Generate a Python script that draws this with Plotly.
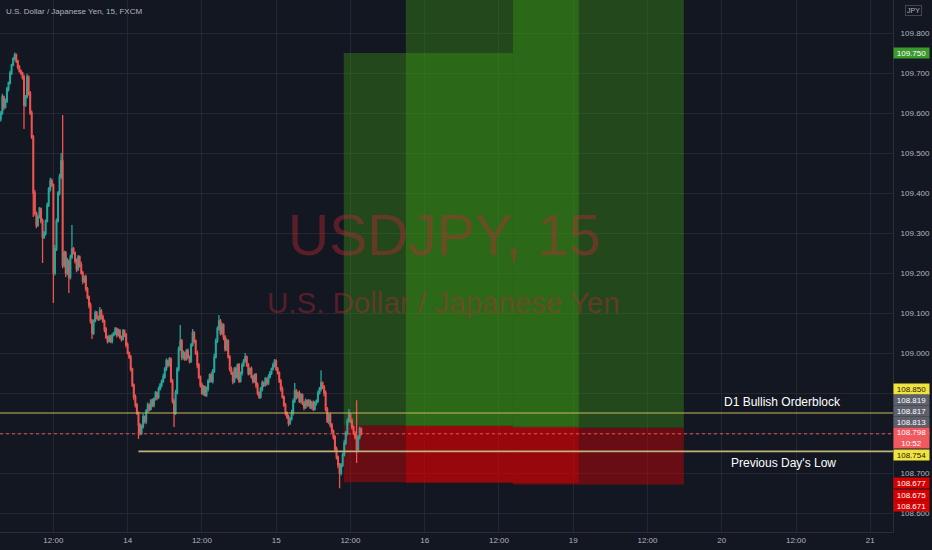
import plotly.graph_objects as go

# USDJPY 15-min candles, 13th 03:30 -> 15th 13:45 (one entry per bar)
first_open = 109.585
closes = [
    109.600, 109.640, 109.615, 109.630, 109.660, 109.675, 109.700, 109.720, 109.735, 109.745,
    109.730, 109.715, 109.705, 109.700, 109.690, 109.620, 109.640, 109.690, 109.650, 109.600,
    109.540, 109.400, 109.350, 109.320, 109.340, 109.360, 109.330, 109.290, 109.300, 109.330,
    109.370, 109.410, 109.430, 109.420, 109.200, 109.260, 109.330, 109.400, 109.440, 109.480,
    109.220, 109.250, 109.200, 109.230, 109.190, 109.240, 109.260, 109.250, 109.230, 109.210,
    109.240, 109.220, 109.200, 109.180, 109.190, 109.160, 109.140, 109.120, 109.080, 109.050,
    109.080, 109.100, 109.090, 109.085, 109.105, 109.090, 109.080, 109.060, 109.040, 109.030,
    109.040, 109.030, 109.045, 109.050, 109.060, 109.045, 109.055, 109.040, 109.035, 109.055,
    109.045, 109.020, 109.000, 108.990, 108.960, 108.920, 108.890, 108.870, 108.850, 108.820,
    108.800, 108.815, 108.840, 108.830, 108.855, 108.870, 108.860, 108.880, 108.870, 108.885,
    108.900, 108.890, 108.910, 108.920, 108.930, 108.940, 108.960, 108.980, 108.970, 108.985,
    108.930, 108.880, 108.850, 108.900, 108.960, 109.010, 109.030, 108.990, 109.000, 108.985,
    109.005, 108.990, 108.980, 109.020, 109.050, 109.030, 109.000, 108.970, 108.940, 108.920,
    108.900, 108.915, 108.895, 108.910, 108.930, 108.945, 108.930, 108.955, 108.990, 109.030,
    109.060, 109.080, 109.050, 109.070, 109.040, 109.010, 109.030, 108.990, 108.960, 108.950,
    108.930, 108.960, 108.940, 108.970, 108.930, 108.950, 108.970, 108.980, 108.990, 108.970,
    108.950, 108.960, 108.940, 108.930, 108.945, 108.920, 108.900, 108.890, 108.910, 108.925,
    108.920, 108.935, 108.925, 108.940, 108.950, 108.960, 108.970, 108.980, 108.960, 108.950,
    108.930, 108.910, 108.890, 108.870, 108.850, 108.840, 108.825, 108.835, 108.850, 108.880,
    108.905, 108.890, 108.900, 108.880, 108.895, 108.875, 108.865, 108.880, 108.870, 108.880,
    108.865, 108.875, 108.860, 108.875, 108.880, 108.900, 108.910, 108.925, 108.915, 108.900,
    108.860, 108.830, 108.845, 108.820, 108.805, 108.790, 108.760, 108.740, 108.720, 108.700,
    108.720, 108.745, 108.775, 108.800, 108.830, 108.845, 108.830, 108.815, 108.800, 108.790,
    108.760, 108.790, 108.810, 108.798,
]
# wick lengths above / below the body, in thousandths of a yen
wick_up = [
    5, 8, 4, 6, 5, 4, 6, 3, 5, 6, 4, 3, 5, 4, 3, 6, 5, 8, 4, 5,
    6, 5, 8, 4, 6, 5, 4, 6, 5, 4, 6, 5, 8, 6, 4, 10, 6, 5, 8, 20,
    115, 6, 5, 8, 4, 6, 60, 5, 4, 6, 5, 4, 8, 5, 4, 6, 5, 4, 6, 5,
    4, 6, 5, 4, 10, 5, 6, 4, 5, 4, 6, 5, 4, 3, 5, 4, 6, 5, 4, 5,
    4, 5, 6, 4, 5, 3, 4, 6, 5, 4, 5, 6, 8, 4, 5, 6, 4, 5, 6, 4,
    5, 4, 6, 5, 4, 8, 5, 6, 4, 5, 4, 5, 6, 8, 5, 6, 40, 5, 6, 4,
    5, 6, 4, 5, 10, 5, 4, 6, 5, 4, 6, 5, 4, 6, 5, 4, 6, 5, 8, 6,
    6, 15, 5, 6, 4, 5, 6, 4, 5, 6, 4, 5, 6, 4, 5, 4, 6, 5, 10, 4,
    5, 4, 6, 5, 4, 5, 6, 4, 5, 6, 4, 5, 4, 6, 5, 4, 6, 5, 4, 5,
    4, 5, 6, 4, 5, 4, 6, 5, 8, 6, 20, 5, 4, 6, 5, 4, 5, 6, 4, 5,
    4, 5, 6, 5, 4, 6, 5, 32, 4, 5, 6, 5, 4, 6, 5, 4, 5, 6, 4, 5,
    5, 6, 8, 5, 6, 15, 5, 6, 4, 5, 92, 5, 6, 4,
]
wick_down = [
    6, 5, 8, 4, 5, 6, 4, 5, 3, 4, 5, 6, 4, 5, 6, 60, 5, 4, 6, 5,
    5, 60, 6, 8, 5, 4, 6, 65, 5, 6, 4, 5, 6, 5, 75, 6, 5, 4, 6, 5,
    8, 6, 10, 5, 40, 6, 5, 4, 6, 8, 5, 6, 4, 8, 5, 6, 5, 8, 6, 15,
    5, 4, 6, 5, 4, 6, 5, 8, 5, 6, 4, 5, 6, 4, 5, 6, 4, 5, 6, 4,
    5, 6, 4, 5, 6, 5, 8, 6, 5, 35, 6, 5, 4, 6, 8, 5, 6, 4, 5, 6,
    4, 8, 5, 4, 6, 5, 4, 5, 6, 4, 5, 6, 35, 5, 4, 6, 5, 8, 6, 5,
    4, 5, 6, 5, 4, 6, 5, 8, 5, 6, 5, 6, 4, 5, 6, 5, 4, 6, 5, 4,
    5, 4, 6, 5, 8, 6, 5, 4, 6, 5, 8, 5, 4, 6, 5, 4, 6, 5, 4, 5,
    6, 5, 4, 6, 5, 8, 6, 5, 4, 6, 5, 4, 6, 5, 4, 5, 4, 6, 5, 4,
    5, 6, 4, 5, 6, 5, 8, 5, 4, 6, 5, 6, 4, 5, 6, 5, 8, 5, 6, 4,
    5, 6, 5, 4, 6, 5, 4, 6, 5, 8, 6, 5, 8, 6, 5, 6, 5, 6, 8, 38,
    6, 5, 4, 5, 6, 4, 5, 6, 5, 6, 35, 5, 6, 4,
]

opens = [first_open] + closes[:-1]
highs = [max(o, c) + u / 1000 for o, c, u in zip(opens, closes, wick_up)]
lows = [min(o, c) - d / 1000 for o, c, d in zip(opens, closes, wick_down)]
bars = list(range(len(closes)))

# time axis (bar index, weekend removed)
tick_bars = [34, 82, 130, 178, 226, 274, 322, 370, 418, 466, 514, 562]
tick_text = ["12:00", "14", "12:00", "15", "12:00", "16", "12:00", "19", "12:00", "20", "12:00", "21"]
price_ticks = [108.6, 108.7, 108.8, 108.9, 109.0, 109.1, 109.2, 109.3, 109.4, 109.5, 109.6, 109.7, 109.8]

# long position tools
box_start = [221.7, 261.8, 331.0]
box_end = [331.0, 373.6, 441.5]
box_entry = [108.819, 108.817, 108.813]
box_stop = [108.677, 108.675, 108.671]
box_target = [109.750, 110.100, 110.100]

orderblock = 108.850
prev_day_low = 108.754
prev_day_low_from = 89
last_price = 108.798
countdown = "10:52"

# price-scale labels: text, background, text colour, pixel row
scale_labels = [
    ("109.750", "#3b9a2c", "#ffffff", 53),
    ("108.850", "#f2e33c", "#131722", 388.5),
    ("108.819", "#5d606b", "#ffffff", 400),
    ("108.817", "#5d606b", "#ffffff", 411),
    ("108.813", "#5d606b", "#ffffff", 422),
    ("108.754", "#f2e33c", "#131722", 455),
    ("108.677", "#d50000", "#ffffff", 483),
    ("108.675", "#d50000", "#ffffff", 494.5),
    ("108.671", "#d50000", "#ffffff", 506),
]

BG = "#131722"
GRID = "#232733"
TXT = "#b2b5be"
FONT = "Liberation Sans, Arial, sans-serif"
PLOT_H = 532
X_RANGE = [-0.5, 576.7]

fig = go.Figure()
fig.add_trace(go.Candlestick(
    x=bars, open=opens, high=highs, low=lows, close=closes,
    increasing=dict(line=dict(color="#26a69a", width=1.3), fillcolor="#26a69a"),
    decreasing=dict(line=dict(color="#ef5350", width=1.3), fillcolor="#ef5350"),
    whiskerwidth=0, showlegend=False, hoverinfo="skip",
))

shapes = []
for x0, x1, e, s, t in zip(box_start, box_end, box_entry, box_stop, box_target):
    shapes.append(dict(type="rect", x0=x0, x1=x1, y0=e, y1=t, line_width=0,
                       fillcolor="rgba(60,160,20,0.36)", layer="between"))
    shapes.append(dict(type="rect", x0=x0, x1=x1, y0=s, y1=e, line_width=0,
                       fillcolor="rgba(220,0,0,0.42)", layer="between"))
shapes.append(dict(type="line", x0=X_RANGE[0], x1=X_RANGE[1], y0=orderblock, y1=orderblock,
                   line=dict(color="#cdb85a", width=1)))
shapes.append(dict(type="line", x0=prev_day_low_from, x1=X_RANGE[1], y0=prev_day_low, y1=prev_day_low,
                   line=dict(color="#bfb27a", width=1.6)))
shapes.append(dict(type="line", x0=X_RANGE[0], x1=X_RANGE[1], y0=last_price, y1=last_price,
                   line=dict(color="#ef5350", width=1, dash="dot")))

annotations = [
    dict(text="USDJPY, 15", xref="paper", yref="paper", x=0.498, y=1 - 235 / PLOT_H,
         showarrow=False, font=dict(family=FONT, size=57, color="rgba(190,40,52,0.42)")),
    dict(text="U.S. Dollar / Japanese Yen", xref="paper", yref="paper", x=0.497, y=1 - 302 / PLOT_H,
         showarrow=False, font=dict(family=FONT, size=29.5, color="rgba(190,40,52,0.42)")),
    dict(text="U.S. Dollar / Japanese Yen, 15, FXCM", xref="paper", yref="paper", x=0.005, y=1 - 12 / PLOT_H,
         xanchor="left", yanchor="middle", showarrow=False, font=dict(family=FONT, size=8, color=TXT)),
    dict(text="D1 Bullish Orderblock", x=505, y=orderblock, yanchor="bottom", yshift=2, showarrow=False,
         font=dict(family=FONT, size=12, color="#ffffff")),
    dict(text="Previous Day's Low", x=506, y=prev_day_low, yanchor="top", yshift=-3, showarrow=False,
         font=dict(family=FONT, size=12, color="#ffffff")),
    dict(text="JPY", xref="paper", yref="paper", x=1, xshift=20, y=1 - 11 / PLOT_H, xanchor="center",
         yanchor="middle", showarrow=False, bordercolor="#434651", borderwidth=1, borderpad=1,
         font=dict(family=FONT, size=7, color=TXT)),
]
for text, bg, fg, row in scale_labels:
    annotations.append(dict(text=text, xref="paper", yref="paper", x=1, y=1 - row / PLOT_H,
                            xanchor="left", yanchor="middle", showarrow=False, bgcolor=bg,
                            width=35, height=10, borderpad=0, xshift=0,
                            font=dict(family=FONT, size=8, color=fg)))
annotations.append(dict(text=f"{last_price:.3f}<br>{countdown}", xref="paper", yref="paper", x=1,
                        y=1 - 438 / PLOT_H, xanchor="left", yanchor="middle", showarrow=False,
                        bgcolor="#f05a5f", width=35, height=20, borderpad=0, xshift=0,
                        font=dict(family=FONT, size=8, color="#ffffff")))

fig.update_layout(
    width=932, height=550,
    margin=dict(l=0, r=39, t=0, b=18),
    paper_bgcolor=BG, plot_bgcolor=BG,
    shapes=shapes, annotations=annotations,
    showlegend=False,
    xaxis=dict(range=X_RANGE, tickmode="array", tickvals=tick_bars, ticktext=tick_text,
               showgrid=True, gridcolor=GRID, gridwidth=1, zeroline=False, ticks="",
               rangeslider=dict(visible=False), showline=True, linecolor="#2a2e39",
               tickfont=dict(family=FONT, size=8, color=TXT)),
    yaxis=dict(side="right", range=[108.5525, 109.8825], tickmode="array", tickvals=price_ticks,
               tickformat=".3f", showgrid=True, gridcolor=GRID, zeroline=False, ticks="",
               showline=True, linecolor="#2a2e39", ticklabelstandoff=5,
               tickfont=dict(family=FONT, size=8, color=TXT)),
)

fig.write_html("out.html", config={"displayModeBar": False},
               post_script="document.body.style.margin='0';")
